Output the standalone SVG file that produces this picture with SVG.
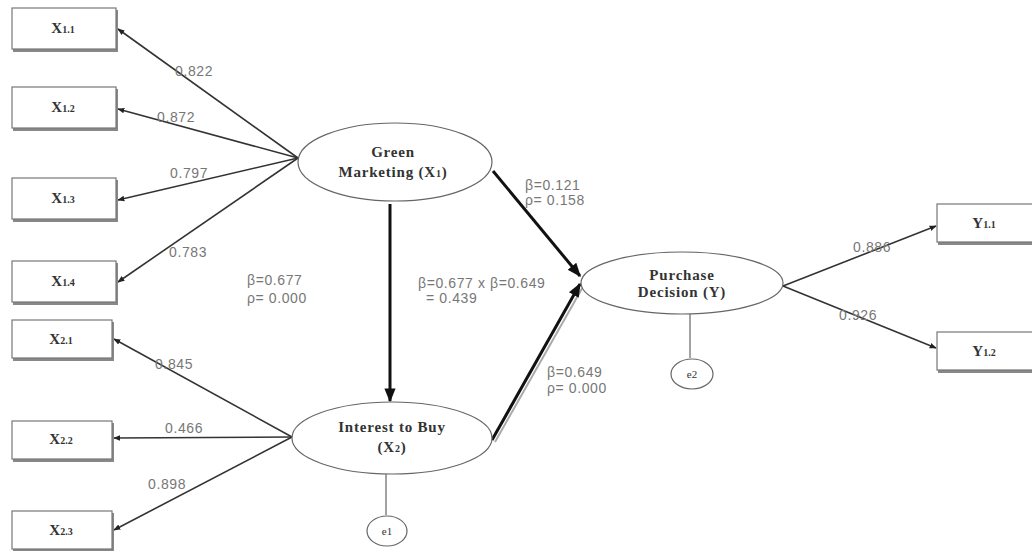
<svg xmlns="http://www.w3.org/2000/svg" width="1032" height="551" viewBox="0 0 1032 551">
<defs>
<marker id="ah" viewBox="0 0 10 10" refX="9" refY="5" markerWidth="7" markerHeight="7" orient="auto" markerUnits="userSpaceOnUse"><path d="M0,1 L10,5 L0,9 z" fill="#222"/></marker>
<marker id="ahb" viewBox="0 0 10 10" refX="9" refY="5" markerWidth="14" markerHeight="14" orient="auto" markerUnits="userSpaceOnUse"><path d="M0,1 L10,5 L0,9 z" fill="#111"/></marker>
</defs>
<style>
.box{fill:#fff;stroke:#777;stroke-width:1.2}
.sh{fill:#888}
.ell{fill:#fff;stroke:#666;stroke-width:1.2}
.nt{font-family:"Liberation Serif",serif;font-weight:bold;font-size:15px;letter-spacing:0.8px;fill:#333;text-anchor:middle}
.bt{font-family:"Liberation Serif",serif;font-weight:bold;font-size:15px;fill:#333;text-anchor:middle}
.sub{font-size:10px}
.et{font-family:"Liberation Serif",serif;font-size:11px;fill:#333;text-anchor:middle}
.el{font-family:"Liberation Sans",sans-serif;font-size:14px;letter-spacing:0.6px;fill:#777}
.ln{stroke:#333;stroke-width:1.6;fill:none}
.th{stroke:#111;stroke-width:3;fill:none}
</style>
<rect width="1032" height="551" fill="#fff"/>
<g id="connectors">
<line class="ln" x1="298" y1="158" x2="118" y2="29" marker-end="url(#ah)"/>
<line class="ln" x1="298" y1="158" x2="118" y2="109" marker-end="url(#ah)"/>
<line class="ln" x1="298" y1="158" x2="118" y2="200" marker-end="url(#ah)"/>
<line class="ln" x1="298" y1="158" x2="118" y2="282" marker-end="url(#ah)"/>
<line class="ln" x1="292" y1="437" x2="114" y2="339" marker-end="url(#ah)"/>
<line class="ln" x1="292" y1="437" x2="114" y2="438" marker-end="url(#ah)"/>
<line class="ln" x1="292" y1="437" x2="114" y2="530" marker-end="url(#ah)"/>
<line class="th" x1="390" y1="204" x2="390" y2="401" marker-end="url(#ahb)"/>
<line class="th" x1="493" y1="171" x2="580" y2="276" marker-end="url(#ahb)"/>
<line x1="495" y1="442" x2="584" y2="285" stroke="#aaa" stroke-width="2"/>
<line class="th" x1="492" y1="440" x2="580" y2="284" marker-end="url(#ahb)"/>
<line class="ln" x1="783" y1="286" x2="936" y2="226" marker-end="url(#ah)"/>
<line class="ln" x1="783" y1="286" x2="936" y2="348" marker-end="url(#ah)"/>
<line x1="386" y1="474" x2="386" y2="515" stroke="#666" stroke-width="1.2"/>
<line x1="690" y1="313" x2="690" y2="358" stroke="#666" stroke-width="1.2"/>
</g>
<g id="labels">
<text class="el" x="175" y="76">0.822</text>
<text class="el" x="157" y="122">0.872</text>
<text class="el" x="170" y="178">0.797</text>
<text class="el" x="169" y="257">0.783</text>
<text class="el" x="155" y="369">0.845</text>
<text class="el" x="165" y="433">0.466</text>
<text class="el" x="148" y="489">0.898</text>
<text class="el" x="525" y="190">β=0.121</text>
<text class="el" x="525" y="205">ρ= 0.158</text>
<text class="el" x="247" y="285">β=0.677</text>
<text class="el" x="247" y="303">ρ= 0.000</text>
<text class="el" x="418" y="288">β=0.677 x β=0.649</text>
<text class="el" x="426" y="303">= 0.439</text>
<text class="el" x="547" y="377">β=0.649</text>
<text class="el" x="547" y="393">ρ= 0.000</text>
<text class="el" x="853" y="252" font-size="12">0.886</text>
<text class="el" x="839" y="320" font-size="12">0.926</text>
</g>
<g id="X11"><rect class="sh" x="13" y="10" width="105" height="42"/><rect class="box" x="12" y="8" width="104" height="41"/><text class="bt" x="63" y="33">X<tspan class="sub">1.1</tspan></text></g>
<g id="X12"><rect class="sh" x="13" y="89" width="105" height="42"/><rect class="box" x="12" y="87" width="104" height="41"/><text class="bt" x="63" y="112">X<tspan class="sub">1.2</tspan></text></g>
<g id="X13"><rect class="sh" x="13" y="180" width="105" height="42"/><rect class="box" x="12" y="178" width="104" height="41"/><text class="bt" x="63" y="203">X<tspan class="sub">1.3</tspan></text></g>
<g id="X14"><rect class="sh" x="13" y="263" width="105" height="42"/><rect class="box" x="12" y="261" width="104" height="41"/><text class="bt" x="63" y="286">X<tspan class="sub">1.4</tspan></text></g>
<g id="X21"><rect class="sh" x="13" y="322" width="101" height="39"/><rect class="box" x="12" y="320" width="100" height="38"/><text class="bt" x="61" y="344">X<tspan class="sub">2.1</tspan></text></g>
<g id="X22"><rect class="sh" x="13" y="423" width="101" height="39"/><rect class="box" x="12" y="421" width="100" height="38"/><text class="bt" x="61" y="444">X<tspan class="sub">2.2</tspan></text></g>
<g id="X23"><rect class="sh" x="13" y="513" width="101" height="39"/><rect class="box" x="12" y="511" width="100" height="38"/><text class="bt" x="61" y="535">X<tspan class="sub">2.3</tspan></text></g>
<g id="Y11"><rect class="sh" x="938" y="206" width="100" height="39"/><rect class="box" x="937" y="204" width="100" height="38"/><text class="bt" x="984" y="228">Y<tspan class="sub">1.1</tspan></text></g>
<g id="Y12"><rect class="sh" x="938" y="334" width="100" height="39"/><rect class="box" x="937" y="332" width="100" height="38"/><text class="bt" x="984" y="356">Y<tspan class="sub">1.2</tspan></text></g>
<g id="GreenMarketing"><ellipse class="ell" cx="395" cy="162" rx="97" ry="39"/><text class="nt" x="393" y="157">Green</text><text class="nt" x="393" y="177">Marketing  (X<tspan class="sub">1</tspan>)</text></g>
<g id="InterestToBuy"><ellipse class="ell" cx="392" cy="438" rx="100" ry="36"/><text class="nt" x="392" y="432">Interest to Buy</text><text class="nt" x="392" y="452">(X<tspan class="sub">2</tspan>)</text></g>
<g id="PurchaseDecision"><ellipse class="ell" cx="682" cy="283" rx="101" ry="31"/><text class="nt" x="682" y="280">Purchase</text><text class="nt" x="682" y="297">Decision (Y)</text></g>
<g id="e1"><ellipse class="ell" cx="387" cy="531" rx="20" ry="15"/><text class="et" x="387" y="535">e1</text></g>
<g id="e2"><ellipse class="ell" cx="692" cy="374" rx="21" ry="15"/><text class="et" x="692" y="378">e2</text></g>
</svg>
